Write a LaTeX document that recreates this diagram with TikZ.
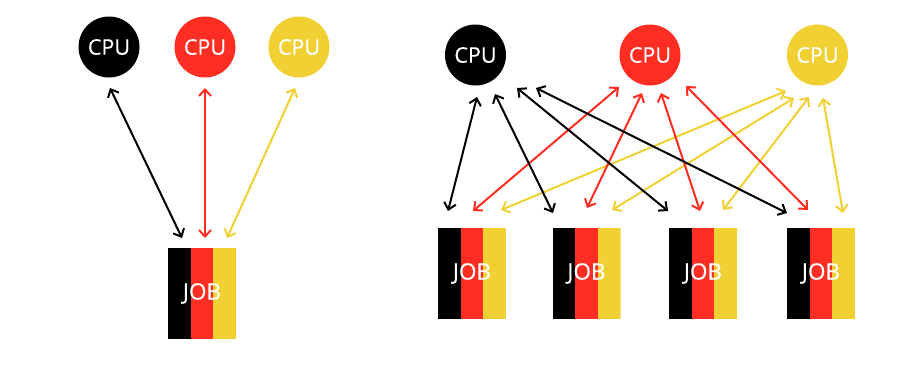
\documentclass[tikz,border=0pt]{standalone}
\usepackage{fontspec}
\setmainfont{Open Sans}[FakeBold=0.6]
\usetikzlibrary{arrows.meta}
\definecolor{cred}{RGB}{255,45,34}
\definecolor{cyel}{RGB}{241,208,52}
\tikzset{
  cpu/.style={circle, fill=#1, minimum size=61pt, inner sep=0pt, text=white, font=\fontsize{21.5}{24}\selectfont},
  jobbox/.style={rectangle, minimum width=68pt, minimum height=91pt, inner sep=0pt, text=white,
    font=\fontsize{22.5}{25}\selectfont,
    path picture={
      \fill[black] (path picture bounding box.south west) rectangle ([xshift=22.67pt]path picture bounding box.north west);
      \fill[cred] ([xshift=22.67pt]path picture bounding box.south west) rectangle ([xshift=45.33pt]path picture bounding box.north west);
      \fill[cyel] ([xshift=45.33pt]path picture bounding box.south west) rectangle (path picture bounding box.north east);
    }},
  link/.style={draw=#1, line width=2pt, {Straight Barb[length=6.5pt,width=12pt]}-{Straight Barb[length=6.5pt,width=12pt]}}
}
\begin{document}
\begin{tikzpicture}[x=1pt,y=-1pt]
\useasboundingbox (0,0) rectangle (905,373);
% left
\node[cpu=black] (lc1) at (109,47) {CPU};
\node[cpu=cred] (lc2) at (205,47) {CPU};
\node[cpu=cyel] (lc3) at (299,47) {CPU};
\node[jobbox] (lj) at (202,293.5) {JOB};
\coordinate (lc1p) at (110,88);
\coordinate (lc2p) at (205,88);
\coordinate (lc3p) at (295,88);
\coordinate (ljp1) at (182,238);
\coordinate (ljp2) at (205,238);
\coordinate (ljp3) at (227,238);
\draw[link=black] (lc1p) -- (ljp1);
\draw[link=cred] (lc2p) -- (ljp2);
\draw[link=cyel] (lc3p) -- (ljp3);
% right
\node[cpu=black] (rc1) at (475.5,55) {CPU};
\node[cpu=cred] (rc2) at (650,55) {CPU};
\node[cpu=cyel] (rc3) at (817.5,55) {CPU};
\node[jobbox] (rj1) at (472,273.5) {JOB};
\node[jobbox] (rj2) at (586.5,273.5) {JOB};
\node[jobbox] (rj3) at (703,273.5) {JOB};
\node[jobbox] (rj4) at (821,273.5) {JOB};
% black cpu ports
\coordinate (b1) at (477,97);  \coordinate (b1e) at (448,211);
\coordinate (b2) at (495,94);  \coordinate (b2e) at (553,213);
\coordinate (b3) at (517,88);  \coordinate (b3e) at (668,211);
\coordinate (b4) at (536,88);  \coordinate (b4e) at (787,213);
% red cpu ports
\coordinate (r1) at (619,87);  \coordinate (r1e) at (473,211);
\coordinate (r2) at (642,93);  \coordinate (r2e) at (587,208);
\coordinate (r3) at (661,93);  \coordinate (r3e) at (700,211);
\coordinate (r4) at (686,86);  \coordinate (r4e) at (808,210);
% yellow cpu ports
\coordinate (y1) at (786,91);  \coordinate (y1e) at (501,210);
\coordinate (y2) at (794,98);  \coordinate (y2e) at (612,210);
\coordinate (y3) at (809,97);  \coordinate (y3e) at (723,210);
\coordinate (y4) at (823,98);  \coordinate (y4e) at (843,213);
\foreach \p in {1,2,3,4}{
  \draw[link=black] (b\p) -- (b\p e);
  \draw[link=cred] (r\p) -- (r\p e);
  \draw[link=cyel] (y\p) -- (y\p e);
}
\end{tikzpicture}
\end{document}
